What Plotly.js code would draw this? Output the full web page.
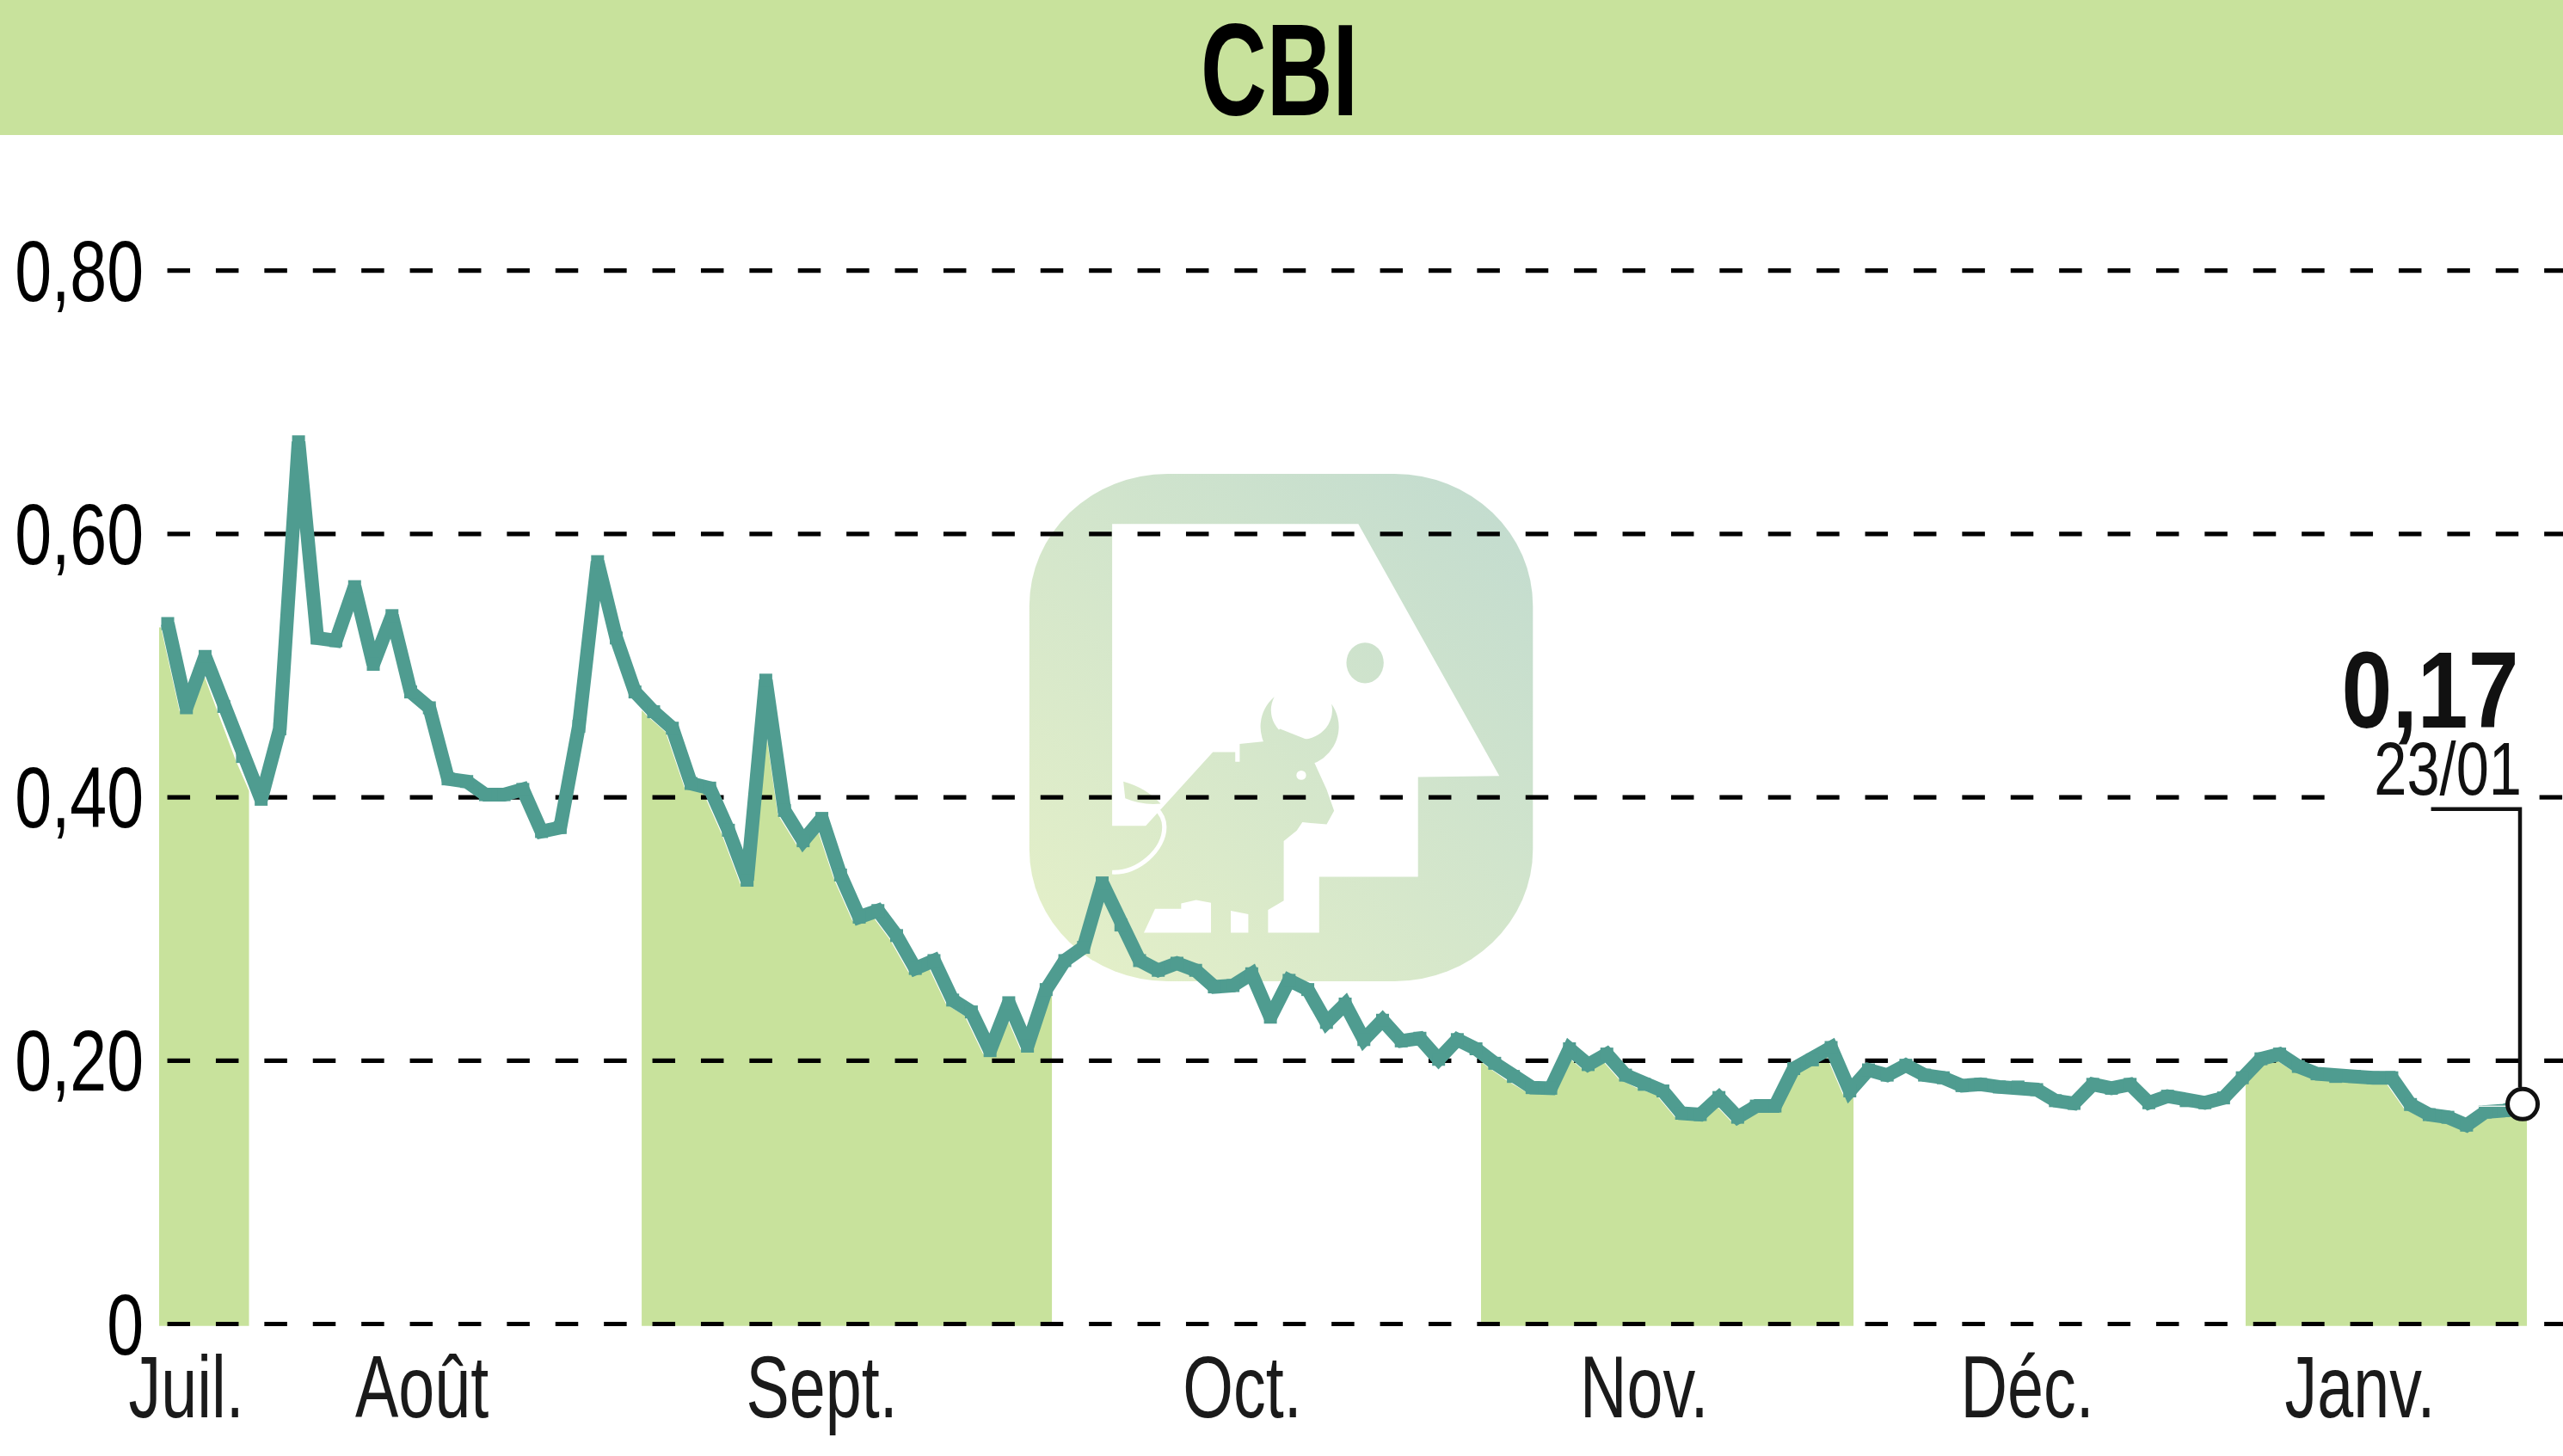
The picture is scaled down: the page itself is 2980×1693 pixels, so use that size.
<!DOCTYPE html>
<html><head><meta charset="utf-8">
<script src="https://cdn.plot.ly/plotly-3.0.1.min.js"></script>
<style>html,body{margin:0;padding:0;background:#fff}</style>
</head><body><div id="chart" style="width:2980px;height:1693px"></div>
<script>
const chartTitle = 'CBI';
const monthLabels = ['Juil.','Août','Sept.','Oct.','Nov.','Déc.','Janv.'];
const monthTicks = [1, 13.6, 35, 57.5, 79, 99.5, 117.3];
const yTicks = [0, 0.2, 0.4, 0.6, 0.8];
const yTickLabels = ['0','0,20','0,40','0,60','0,80'];
const bandStart = [-0.46, 25.36, 70.27, 111.18];
const bandEnd = [4.35, 47.31, 90.2, 126.23];
const lastLabel = '0,17';
const lastDate = '23/01';
const prices = [
.532,.468,.507,.469,.431,.3985,.452,.670,.521,.519,
.560,.501,.538,.48,.468,.414,.412,.402,.402,.406,
.374,.377,.454,.579,.521,.48,.465,.4525,.4105,.407,
.375,.337,.489,.39,.367,.384,.341,.309,.314,.295,
.27,.276,.246,.237,.2076,.244,.211,.254,.276,.286,
.335,.303,.276,.2686,.274,.2686,.256,.257,.266,.233,
.261,.254,.229,.243,.216,.2307,.215,.217,.201,.216,
.209,.198,.188,.1795,.179,.209,.197,.205,.189,.182,
.177,.16,.159,.172,.157,.1655,.1655,.194,.2006,.210,
.177,.193,.189,.1965,.189,.187,.181,.182,.18,.18,
.178,.1696,.1675,.182,.179,.182,.168,.173,.1696,.168,
.1717,.187,.2014,.205,.1956,.19,.188,.188,.187,.187,
.1667,.159,.157,.151,.161,.162,.167];
const indices = prices.map((_, i) => i);
const hairlineX = [123.6, 125.2];
const hairlineY = [0.1654, 0.1654];

const GREEN = '#c8e29c', TEAL = '#4f9c90', FONT = '"Liberation Sans", Arial, sans-serif';
const L = 185, T = 157, B = 1545, W = 2980, H = 1693;
const plotW = W - L, plotH = B - T;
const xMin = -0.46, xMax = 128.16, yMin = -0.0036, yMax = 0.903;
const fillDx = -0.36, fillDy = -0.003, fillBase = -0.0014;

function shiftedAt(x) {
  const sx = indices.map(i => i + fillDx);
  if (x <= sx[0]) return prices[0] + fillDy;
  if (x >= sx[sx.length - 1]) return prices[prices.length - 1] + fillDy;
  const i = sx.findIndex(v => v > x);
  const t = (x - sx[i - 1]) / (sx[i] - sx[i - 1]);
  return prices[i - 1] + t * (prices[i] - prices[i - 1]) + fillDy;
}
const traces = [];
bandStart.forEach((a, k) => {
  const b = bandEnd[k];
  const xs = [a, a], ys = [fillBase, shiftedAt(a)];
  indices.forEach(i => { const x = i + fillDx; if (x > a && x < b) { xs.push(x); ys.push(prices[i] + fillDy); } });
  xs.push(b, b, a); ys.push(shiftedAt(b), fillBase, fillBase);
  traces.push({x: xs, y: ys, type: 'scatter', mode: 'lines', line: {width: 0, color: GREEN}, fill: 'toself', fillcolor: GREEN, hoverinfo: 'skip', showlegend: false});
});
const gx = [], gy = [];
yTicks.forEach(v => {
  if (v === 0.4) { gx.push(-0.02, 116.3, null, 126.9, xMax, null); gy.push(v, v, null, v, v, null); }
  else { gx.push(-0.02, xMax, null); gy.push(v, v, null); }
});
traces.push({x: gx, y: gy, type: 'scatter', mode: 'lines', line: {color: '#000', width: 5.2, dash: '26.5px,29.9px'}, cliponaxis: false, hoverinfo: 'skip', showlegend: false});
traces.push({x: indices, y: prices, type: 'scatter', mode: 'lines+markers', line: {color: TEAL, width: 16, shape: 'linear'}, marker: {color: TEAL, size: 15, symbol: 'square'}, cliponaxis: false, hoverinfo: 'skip', showlegend: false});
traces.push({x: hairlineX, y: hairlineY, type: 'scatter', mode: 'lines', line: {color: '#e8f2ee', width: 1.5}, hoverinfo: 'skip', showlegend: false});
traces.push({x: [indices[indices.length - 1]], y: [prices[prices.length - 1]], type: 'scatter', mode: 'markers', marker: {color: '#fff', size: 35, line: {color: '#111', width: 5}}, cliponaxis: false, hoverinfo: 'skip', showlegend: false});

const logo = `<svg xmlns="http://www.w3.org/2000/svg" viewBox="0 0 1568 1568" preserveAspectRatio="none">
<defs><linearGradient id="g" gradientUnits="userSpaceOnUse" x1="200" y1="1400" x2="1400" y2="150"><stop offset="0" stop-color="#e3efc8"/><stop offset="1" stop-color="#c3dccf"/></linearGradient></defs>
<rect x="108" y="75" width="1350" height="1423" rx="370" ry="370" fill="url(#g)"/>
<path fill="#fff" d="M330 215L990 215L1368 922L1150 925L1150 1205L885 1205L885 1362L748 1362L748 1298L790 1272L790 1105L825 1075L840 1052L905 1058L925 1020L905 960L870 880L850 858L740 825L672 832L672 882L660 882L660 855L600 855L470 1005L420 1062L330 1062Z"/>
<path fill="url(#g)" d="M765 700A105 110 0 1 0 918 720A82 82 0 1 1 765 700Z"/>
<path fill="url(#g)" d="M740 825L850 858L900 840L780 790Z"/>
<ellipse cx="1008" cy="605" rx="50" ry="57" fill="url(#g)"/>
<path fill="url(#g)" d="M360 938Q420 955 460 1000Q410 1005 365 985Z"/>
<circle cx="837" cy="920" r="13" fill="#fff"/>
<path fill="none" stroke="#fff" stroke-width="12" d="M330 1192C400 1195 470 1130 470 1065C470 1045 460 1025 445 1010"/>
<path fill="#fff" d="M415 1362L445 1295L515 1295L515 1280L555 1270L595 1278L595 1362Z"/>
<path fill="#fff" d="M648 1300L695 1310L695 1362L648 1362Z"/>
</svg>`;

const layout = {
  width: W, height: H, showlegend: false, hovermode: false,
  paper_bgcolor: '#fff', plot_bgcolor: 'rgba(0,0,0,0)',
  margin: {l: L, r: 0, t: T, b: H - B, pad: 0},
  font: {family: FONT, color: '#111'},
  title: {text: '<b>' + chartTitle + '</b>', font: {size: 152, color: '#000', family: FONT}, x: 1487.5 / W, xanchor: 'center', xref: 'container', y: 1 - 81 / H, yanchor: 'middle', yref: 'container'},
  xaxis: {range: [xMin, xMax], showgrid: false, zeroline: false, showline: false, ticks: '', tickmode: 'array', tickvals: monthTicks, ticktext: monthLabels, tickangle: 0, tickfont: {size: 102, color: '#1a1a1a'}, ticklabelstandoff: 0, fixedrange: true},
  yaxis: {range: [yMin, yMax], showgrid: false, zeroline: false, showline: false, ticks: '', tickmode: 'array', tickvals: yTicks, ticktext: yTickLabels, tickfont: {size: 100, color: '#000'}, ticklabelstandoff: 17, fixedrange: true},
  shapes: [
    {type: 'rect', xref: 'paper', yref: 'paper', x0: -L / plotW, x1: 1, y0: 1, y1: 1 + T / plotH, fillcolor: GREEN, line: {width: 0}, layer: 'below'},
    {type: 'path', xref: 'x', yref: 'y', path: 'M121.1,0.391 L125.86,0.391 L125.86,0.18', line: {color: '#111', width: 4.5}, layer: 'above'}
  ],
  images: [{source: 'data:image/svg+xml;charset=utf-8,' + encodeURIComponent(logo), xref: 'paper', yref: 'paper', x: (1150 - L) / plotW, y: (B - 520) / plotH, sizex: 680 / plotW, sizey: 650 / plotH, xanchor: 'left', yanchor: 'top', sizing: 'stretch', layer: 'below'}],
  annotations: [
    {xref: 'paper', yref: 'paper', x: (2825 - L) / plotW, y: (B - 803) / plotH, xanchor: 'center', yanchor: 'middle', text: '<b>' + lastLabel + '</b>', showarrow: false, font: {size: 126, color: '#111'}},
    {xref: 'paper', yref: 'paper', x: (2846 - L) / plotW, y: (B - 894) / plotH, xanchor: 'center', yanchor: 'middle', text: lastDate, showarrow: false, font: {size: 88, color: '#111'}}
  ]
};
function squeeze(selector, scale, anchor) {
  document.querySelectorAll(selector).forEach(el => {
    const box = el.getBBox();
    const ax = anchor === 'right' ? box.x + box.width : box.x + box.width / 2;
    const old = el.getAttribute('transform') || '';
    el.setAttribute('transform', old + ' translate(' + ax + ',0) scale(' + scale + ',1) translate(' + (-ax) + ',0)');
  });
}
Plotly.newPlot('chart', traces, layout, {displayModeBar: false, staticPlot: true}).then(() => {
  squeeze('.gtitle', 0.7, 'center');
  squeeze('.xtick text', 0.74, 'center');
  squeeze('.ytick text', 0.77, 'right');
  const notes = document.querySelectorAll('.annotation-text');
  if (notes[0]) { notes[0].classList.add('note-value'); notes[1].classList.add('note-date'); }
  squeeze('.note-value', 0.84, 'center');
  squeeze('.note-date', 0.78, 'center');
});
</script></body></html>
